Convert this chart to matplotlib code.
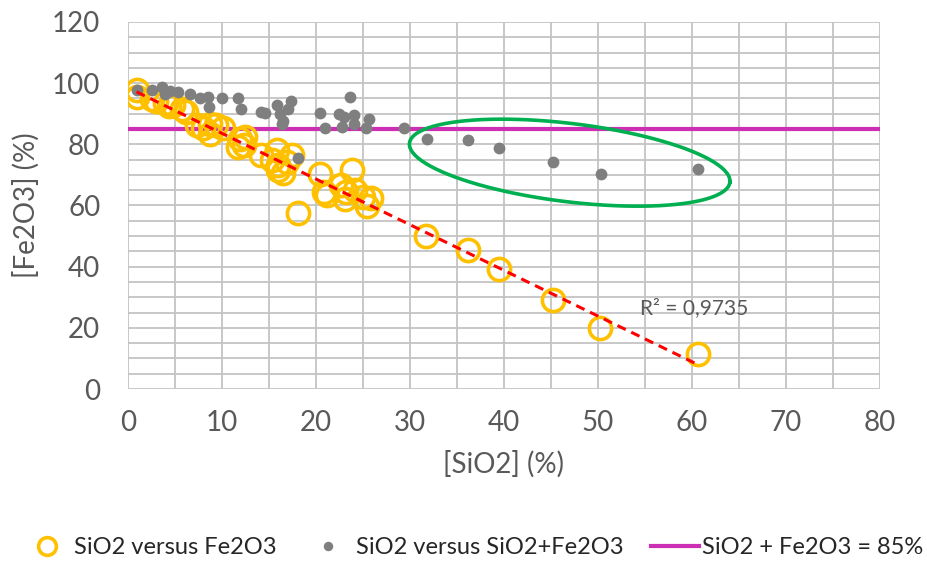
import numpy as np
import matplotlib
matplotlib.use("Agg")
import matplotlib.pyplot as plt

plt.rcParams["font.family"] = ["Lato", "DejaVu Sans"]

# SiO2 vs Fe2O3 (%)
sio2 = [0.9, 1.0, 2.6, 3.0, 3.9, 4.4, 4.8, 5.7, 6.2, 7.3, 8.0, 8.7, 8.7, 9.4,
        10.1, 11.9, 12.3, 11.7, 12.4, 14.2, 15.3, 15.8, 16.0, 16.0, 16.5, 16.9,
        17.4, 18.1, 20.4, 20.8, 21.2, 22.7, 23.8, 23.2, 24.1, 23.1, 25.0, 25.4,
        25.9, 31.75, 36.2, 39.5, 45.2, 50.2, 60.7]
fe2o3 = [97.7, 95.5, 94.8, 94.0, 93.4, 92.6, 92.8, 91.7, 90.5, 86.3, 85.2, 83.5,
         86.8, 86.3, 85.2, 81.9, 79.7, 79.2, 82.5, 76.5, 74.8, 78.1, 73.2, 71.6,
         70.5, 74.3, 76.5, 57.4, 70.3, 64.5, 63.5, 66.7, 71.6, 64.5, 65.0, 62.0,
         62.8, 59.8, 62.3, 50.0, 45.6, 39.4, 29.0, 20.0, 11.3]

# SiO2 vs SiO2+Fe2O3 (%)
sio2_b = [1.0, 2.6, 3.6, 3.9, 4.5, 5.3, 6.6, 7.7, 8.5, 8.6, 10.0, 11.7, 12.0,
          14.2, 14.6, 15.9, 16.2, 16.5, 16.4, 17.3, 17.0, 18.1, 20.4, 21.0,
          22.5, 23.6, 23.0, 24.0, 22.8, 24.0, 25.6, 25.3, 29.4, 31.8, 36.2,
          39.5, 45.2, 50.3, 60.7]
total = [97.7, 97.7, 98.8, 96.6, 97.5, 97.2, 96.6, 95.0, 95.5, 92.3, 95.2, 95.0,
         91.7, 90.6, 90.2, 93.0, 89.8, 87.5, 86.8, 94.0, 91.5, 75.4, 90.4, 85.2,
         90.0, 95.5, 89.0, 89.5, 85.8, 86.6, 88.2, 85.3, 85.2, 81.9, 81.5, 78.9,
         74.3, 70.3, 71.9]

limit = 85
r2_label = "R² = 0,9735"

fig = plt.figure(figsize=(9.28, 5.63), dpi=100)
ax = fig.add_axes([0.138, 0.309, 0.810, 0.652])

ax.set_xlim(0, 80)
ax.set_ylim(0, 120)
ax.set_xticks(np.arange(0, 81, 10))
ax.set_yticks(np.arange(0, 121, 20))
ax.set_xticks(np.arange(0, 81, 5), minor=True)
ax.set_yticks(np.arange(0, 121, 5), minor=True)
ax.grid(which="both", color="#C4C4C4", linewidth=1.3, zorder=0)
ax.set_axisbelow(True)
for s in ax.spines.values():
    s.set_visible(False)
ax.tick_params(which="both", length=0, labelsize=20, colors="#595959")
ax.tick_params(axis="x", pad=15)
ax.tick_params(axis="y", pad=20)

ax.axhline(limit, color="#CC2EB4", linewidth=3, zorder=2,
           label="SiO2 + Fe2O3 = 85%")
ax.plot(sio2, fe2o3, "o", ms=16, mfc="none", mec="#FFC000", mew=2.6, zorder=3,
        label="SiO2 versus Fe2O3")
ax.plot(sio2_b, total, "o", ms=8.5, color="#7F7F7F", mec="none", zorder=4,
        label="SiO2 versus SiO2+Fe2O3")

# linear trend of Fe2O3 against SiO2
k, b = np.polyfit(sio2, fe2o3, 1)
xt = np.array([min(sio2), max(sio2)])
ax.plot(xt, k * xt + b, color="#FF0000", linewidth=2.2, dashes=(3, 2), zorder=5)
ax.text(54.5, 26.5, r2_label, fontsize=15, color="#595959", va="center")

# highlight of the high-SiO2 samples below the 85 % line
t = np.linspace(0, 2 * np.pi, 200)
cx, cy = 47.0, 74.0
ex = cx + 17.05 * np.cos(t) - 0.5 * np.sin(t)
ey = cy - 6.4 * np.cos(t) - 12.7 * np.sin(t)
ax.plot(ex, ey, color="#00B050", linewidth=2.6, zorder=6)

ax.set_xlabel("[SiO2] (%)", fontsize=20, color="#595959")
ax.set_ylabel("[Fe2O3] (%)", fontsize=20, color="#595959")
ax.xaxis.set_label_coords(0.5, -0.168)
ax.yaxis.set_label_coords(-0.117, 0.5)

h, l = ax.get_legend_handles_labels()
fig.legend([h[1], h[2], h[0]], [l[1], l[2], l[0]], loc="center",
           bbox_to_anchor=(0.51, 0.027), ncol=3, frameon=False, fontsize=17,
           labelcolor="#262626", handlelength=2.0, columnspacing=1.2,
           handletextpad=0.15, markerscale=0.8)

fig.savefig("out.png", dpi=100)
